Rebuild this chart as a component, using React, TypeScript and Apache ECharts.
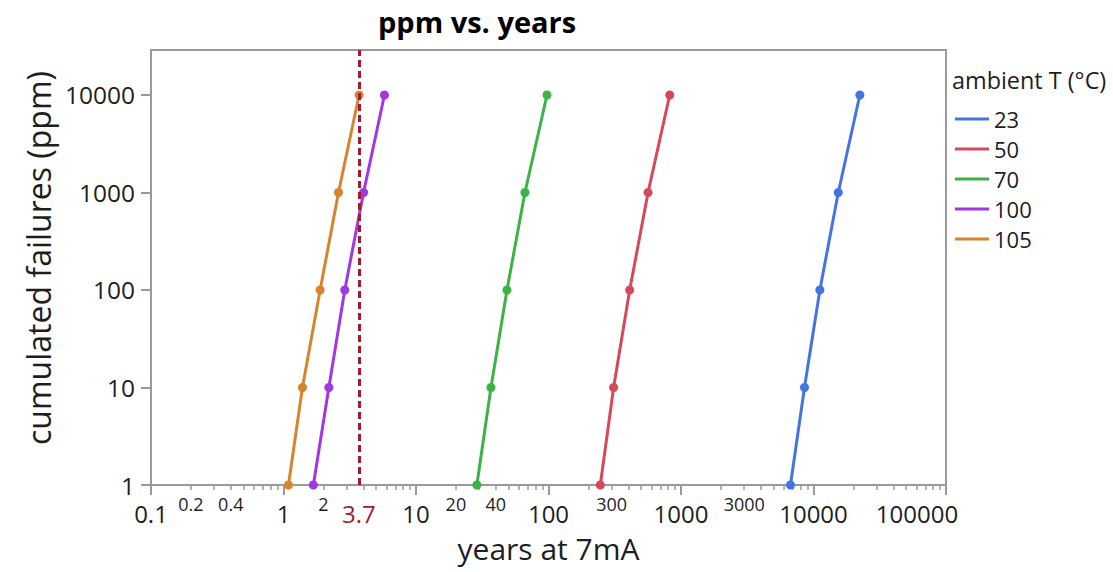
import React, { useEffect, useRef } from 'react';
import * as echarts from 'echarts';

// ---- data ----
const ppmLevels = [1, 10, 100, 1000, 10000];
const temperatures = ['23', '50', '70', '100', '105'];
const years23 = [6700, 8550, 11170, 15380, 22380];
const years50 = [246, 310, 410, 564, 822];
const years70 = [28.8, 36.8, 48.6, 66.4, 97.4];
const years100 = [1.68, 2.2, 2.9, 4.02, 5.78];
const years105 = [1.09, 1.39, 1.89, 2.6, 3.72];
const seriesColors = ['#4473e4', '#d8485b', '#3cb247', '#a137e2', '#d8832f'];
const markerYear = 3.7;
const xMajorLabels = ['0.1', '1', '10', '100', '1000', '10000', '100000'];
const xMinorLabels = ['0.2', '0.4', '2', '20', '40', '300', '3000'];
const yTickLabels = ['1', '10', '100', '1000', '10000'];
const xMin = 0.1;
const xMax = 100000;
const yMin = 1;
const yMax = 28940;

const FONT = '"Open Sans", "Noto Sans", sans-serif';
const TEXT = '#1e1e1e';
const FRAME = '#9a9a9a';
const MARK = '#a8182e';

const lg = (v: string | number) => Math.log10(Number(v));

export default function App() {
  const ref = useRef<HTMLDivElement>(null);
  useEffect(() => {
    if (!ref.current) return;
    const chart = echarts.init(ref.current, undefined, { renderer: 'svg' });

    const yearSets = [years23, years50, years70, years100, years105];
    const minorTickValues: number[] = [];
    for (let d = Math.round(lg(xMin)); d < Math.round(lg(xMax)); d++) {
      for (let m = 2; m <= 9; m++) minorTickValues.push(d + Math.log10(m));
    }
    const majorEntries = [
      ...xMajorLabels.map((s, i) => ({
        v: lg(s),
        text: s,
        style: i === xMajorLabels.length - 1 ? 'last' : 'mj',
      })),
      { v: lg(markerYear), text: String(markerYear), style: 'mk' },
    ];
    const minorEntries = xMinorLabels.map((s) => ({ v: lg(s), text: s }));
    const closest = <T extends { v: number }>(arr: T[], val: number): T =>
      arr.reduce((a, b) => (Math.abs(b.v - val) < Math.abs(a.v - val) ? b : a));

    const hidden = {
      axisLine: { show: false },
      axisTick: { show: false },
      axisLabel: { show: false },
      splitLine: { show: false },
    };

    const series: any[] = temperatures.map((t, i) => ({
      name: t,
      type: 'line',
      xAxisIndex: 0,
      yAxisIndex: 0,
      data: ppmLevels.map((p, k) => [yearSets[i][k], p]),
      symbol: 'circle',
      symbolSize: 9,
      showSymbol: true,
      color: seriesColors[i],
      lineStyle: { width: 3, color: seriesColors[i] },
      itemStyle: { color: seriesColors[i] },
      clip: true,
    }));
    series.push({
      name: 'marker',
      type: 'line',
      xAxisIndex: 0,
      yAxisIndex: 0,
      data: [],
      markLine: {
        silent: true,
        symbol: 'none',
        label: { show: false },
        lineStyle: { color: MARK, width: 3, type: [7, 4] },
        data: [{ xAxis: markerYear }],
      },
    });

    chart.setOption({
      animation: false,
      textStyle: { fontFamily: FONT },
      title: [
        {
          text: 'ppm vs. years',
          left: 378,
          top: 7,
          padding: 0,
          textStyle: { fontFamily: FONT, fontSize: 29, fontWeight: 'bold', color: '#000' },
        },
        {
          text: 'ambient T (°C)',
          left: 952,
          top: 68,
          padding: 0,
          textStyle: { fontFamily: FONT, fontSize: 23.4, fontWeight: 'normal', color: TEXT },
        },
      ],
      legend: {
        orient: 'vertical',
        left: 955,
        top: 108,
        padding: 0,
        itemWidth: 34,
        itemHeight: 3,
        itemGap: 8,
        icon: 'rect',
        selectedMode: false,
        data: temperatures,
        textStyle: { fontFamily: FONT, fontSize: 22, lineHeight: 22, color: TEXT },
      },
      grid: {
        left: 151,
        right: 167,
        top: 50,
        bottom: 87,
        show: true,
        borderColor: FRAME,
        borderWidth: 2,
        backgroundColor: 'transparent',
        containLabel: false,
        outerBoundsMode: 'none',
      },
      xAxis: [
        { type: 'log', logBase: 10, min: xMin, max: xMax, position: 'bottom', ...hidden },
        {
          type: 'value',
          min: lg(xMin),
          max: lg(xMax),
          position: 'bottom',
          axisLine: { show: false, onZero: false },
          splitLine: { show: false },
          axisTick: {
            show: true,
            length: 10,
            customValues: xMajorLabels.map(lg),
            lineStyle: { color: FRAME, width: 2 },
          },
          axisLabel: {
            show: true,
            margin: 16,
            fontSize: 24,
            fontFamily: FONT,
            customValues: majorEntries.map((e) => e.v),
            formatter: (val: number) => {
              const e = closest(majorEntries, Number(val));
              return `{${e.style}|${e.text}}`;
            },
            rich: {
              mj: { fontSize: 24, fontFamily: FONT, color: TEXT },
              mk: { fontSize: 24, fontFamily: FONT, color: MARK },
              last: { fontSize: 24, fontFamily: FONT, color: TEXT, padding: [0, 58, 0, 0] },
            },
            showMinLabel: true,
            showMaxLabel: true,
          },
          name: 'years at 7mA',
          nameLocation: 'middle',
          nameGap: 48,
          nameTextStyle: { fontFamily: FONT, fontSize: 30, color: TEXT },
        },
        {
          type: 'value',
          min: lg(xMin),
          max: lg(xMax),
          position: 'bottom',
          axisLine: { show: false, onZero: false },
          splitLine: { show: false },
          axisTick: {
            show: true,
            length: 5,
            customValues: minorTickValues,
            lineStyle: { color: FRAME, width: 1.5 },
          },
          axisLabel: {
            show: true,
            margin: 10,
            fontSize: 18,
            fontFamily: FONT,
            color: TEXT,
            customValues: minorEntries.map((e) => e.v),
            formatter: (val: number) => closest(minorEntries, Number(val)).text,
            showMinLabel: true,
            showMaxLabel: true,
          },
        },
      ],
      yAxis: [
        { type: 'log', logBase: 10, min: yMin, max: yMax, position: 'left', ...hidden },
        {
          type: 'value',
          min: lg(yMin),
          max: lg(yMax),
          position: 'left',
          axisLine: { show: false, onZero: false },
          splitLine: { show: false },
          axisTick: {
            show: true,
            length: 10,
            customValues: yTickLabels.map(lg),
            lineStyle: { color: FRAME, width: 2 },
          },
          axisLabel: {
            show: true,
            margin: 16,
            fontSize: 24.5,
            fontFamily: FONT,
            color: TEXT,
            customValues: yTickLabels.map(lg),
            formatter: (val: number) =>
              yTickLabels.reduce((a, b) => (Math.abs(lg(b) - val) < Math.abs(lg(a) - val) ? b : a)),
            showMinLabel: true,
            showMaxLabel: true,
          },
          name: 'cumulated failures (ppm)',
          nameLocation: 'middle',
          nameGap: 95,
          nameTextStyle: { fontFamily: FONT, fontSize: 32, color: TEXT, padding: [0, 0, 0, 19] },
        },
      ],
      series,
    });
    return () => chart.dispose();
  }, []);
  return (
    <div
      ref={ref}
      style={{ position: 'absolute', left: 0, top: 0, width: 1113, height: 572, background: '#fff' }}
    />
  );
}
